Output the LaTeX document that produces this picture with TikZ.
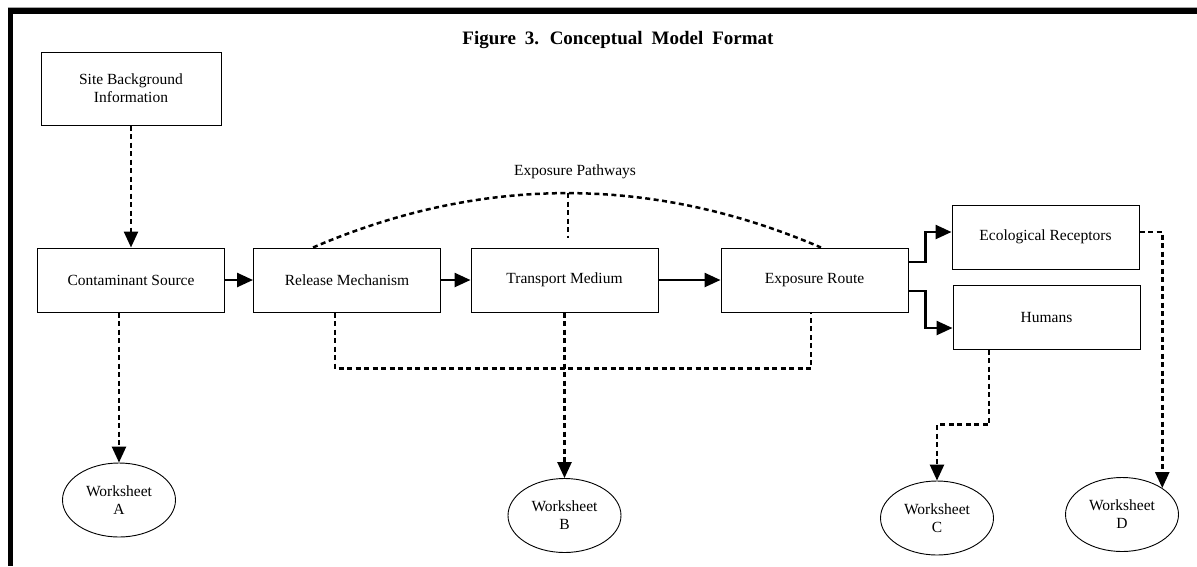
\documentclass[tikz,border=0pt]{standalone}
\usepackage{fontspec}
\setmainfont{Liberation Serif}
\usetikzlibrary{arrows.meta, positioning, shapes.geometric}

\tikzset{
  block/.style = {draw, line width=1pt, minimum width=187pt, minimum height=64pt,
                  inner sep=0pt, align=center, font=\fontsize{15.5}{18}\selectfont},
  sheet/.style = {draw, ellipse, line width=0.9pt, minimum width=113pt, minimum height=74pt,
                  inner sep=0pt, align=center, font=\fontsize{15.5}{18}\selectfont},
  flow/.style = {-{Triangle[length=16pt, width=14pt]}, line width=2.5pt},
  link/.style = {line width=2.5pt, dash pattern=on 5pt off 3.5pt},
  linkarrow/.style = {link, -{Triangle[length=16pt, width=14pt]}},
}

\begin{document}
\begin{tikzpicture} [x=1pt, y=-1pt, on grid]
\useasboundingbox (0,0) rectangle (1197,566);

% frame
\fill (7.5,8) rectangle (1197,13.5);
\fill (7.5,8) rectangle (13,566);
\draw [black!35, line width=0.8pt] (7.5,7.2) -- (1197,7.2);

\node (title) at (618,40) {\fontsize{19}{22}\selectfont\bfseries\spaceskip=9pt Figure 3. Conceptual Model Format};

\node (src) [block] at (131,280) {Contaminant Source};
\node (site) [block, minimum width=180pt, minimum height=73pt, above=191.5pt of src] {Site Background\\Information};
\node (rel) [block, right=216pt of src] {Release Mechanism};
\node (tra) [block, right=217.5pt of rel] {Transport Medium};
\node (exr) [block, right=250pt of tra] {Exposure Route};
\node (eco) [block, right=231pt of exr, yshift=43pt] {Ecological Receptors};
\node (hum) [block, below=80pt of eco, xshift=1pt] {Humans};

\node (wsA) [sheet, below=220pt of src, xshift=-12pt] {Worksheet\\A};
\node (wsB) [sheet, below=235.5pt of tra] {Worksheet\\B};
\node (wsC) [sheet, below=201pt of hum, xshift=-109.5pt] {Worksheet\\C};
\node (wsD) [sheet, below=277.5pt of eco, xshift=76.5pt] {Worksheet\\D};

\node (paths) [font=\fontsize{15.5}{18}\selectfont] at (575,172) {Exposure Pathways};
\coordinate (peak) at (568,193);

\path [flow] (src) edge (rel);
\path [flow] (rel) edge (tra);
\path [flow] (tra) edge (exr);
\draw [flow] ([yshift=18pt]exr.east) -- ++(17,0) |- ([yshift=5pt]eco.west);
\draw [flow] ([yshift=-11pt]exr.east) -- ++(17,0) |- ([yshift=-11pt]hum.west);

\draw [linkarrow] (site.south) -- (src.north);
\draw [linkarrow] ([xshift=-12pt]src.south) -- (wsA.north);
\draw [linkarrow] (tra.south) -- (wsB.north);
\draw [linkarrow] ([xshift=-57.5pt]hum.south) -- ++(0,75) -| (wsC.north);
\draw [linkarrow] ([yshift=5pt]eco.east) -| (wsD.north east);

\draw [link] ([xshift=-34pt]rel.north) .. controls (482,175) and (652,175) .. ([xshift=6.5pt]exr.north);
\draw [link] (peak) -- ([xshift=3.5pt, yshift=10pt]tra.north);
\draw [link] ([xshift=-12pt]rel.south) -- ++(0,56) -| ([xshift=-3.5pt]exr.south);

\end{tikzpicture}
\end{document}
